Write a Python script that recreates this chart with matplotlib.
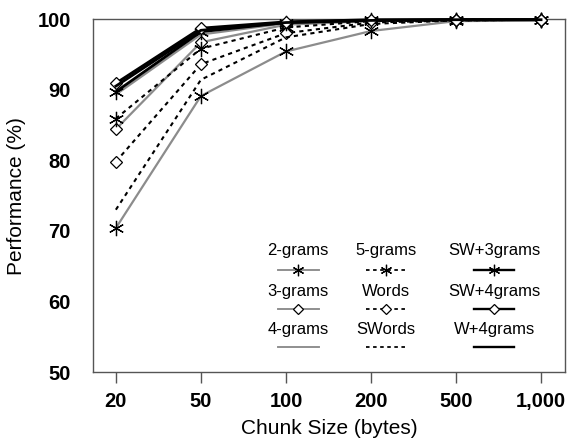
import numpy as np
import matplotlib
matplotlib.use('Agg')
from matplotlib import pyplot as plt

plt.rcParams['font.family'] = ['Liberation Sans', 'DejaVu Sans']

# Chart data
chunkSizes = ['20', '50', '100', '200', '500', '1,000']
gram2 = [70.4, 89.1, 95.4, 98.3, 99.7, 99.8]
gram3 = [84.4, 96.7, 99.2, 99.7, 99.9, 99.9]
gram4 = [89.3, 97.8, 99.4, 99.8, 99.9, 99.9]
gram5 = [85.9, 95.8, 98.8, 99.7, 99.9, 99.9]
words = [79.8, 93.6, 98.0, 99.5, 99.8, 99.9]
swords = [73.0, 91.4, 97.4, 99.3, 99.8, 99.9]
sw3grams = [89.7, 98.2, 99.5, 99.8, 99.9, 99.9]
sw4grams = [90.9, 98.7, 99.6, 99.9, 99.9, 99.9]
w4grams = [90.5, 98.4, 99.5, 99.8, 99.9, 99.9]
yTicks = [50, 60, 70, 80, 90, 100]

GRAY = '#8c8c8c'
STAR = (6, 2, 0)

# label, values, color, linestyle, linewidth, marker
series = [
    ('2-grams', gram2, GRAY, '-', 1.6, STAR),
    ('3-grams', gram3, GRAY, '-', 1.6, 'D'),
    ('4-grams', gram4, GRAY, '-', 1.6, None),
    ('5-grams', gram5, 'black', (0, (2, 2)), 1.5, STAR),
    ('Words', words, 'black', (0, (2, 2)), 1.5, 'D'),
    ('SWords', swords, 'black', (0, (2, 2)), 1.5, None),
    ('SW+3grams', sw3grams, 'black', '-', 2.0, STAR),
    ('SW+4grams', sw4grams, 'black', '-', 2.0, 'D'),
    ('W+4grams', w4grams, 'black', '-', 2.0, None),
]


def markerKw(marker, scale=1.0):
    if marker == 'D':
        return dict(marker='D', markersize=6.5 * scale, markerfacecolor='white',
                    markeredgecolor='black', markeredgewidth=0.9)
    if marker is None:
        return dict(marker=None)
    return dict(marker=marker, markersize=11 * scale, markeredgecolor='black',
                markeredgewidth=0.9)


def main():
    fig = plt.figure(figsize=(5.70, 4.42), dpi=100)
    ax = fig.add_axes([0.163, 0.158, 0.828, 0.799])
    xPos = np.arange(len(chunkSizes))

    for i, (label, vals, color, ls, lw, marker) in enumerate(series):
        ax.plot(xPos, vals, color=color, linestyle=ls, linewidth=lw,
                zorder=2 + i, clip_on=False, **markerKw(marker))

    ax.set_xlim(-0.27, 5.28)
    ax.set_ylim(50, 100)
    ax.set_xticks(xPos)
    ax.set_xticklabels(chunkSizes, fontsize=14.5, fontweight='bold')
    ax.set_yticks(yTicks)
    ax.set_yticklabels([str(v) for v in yTicks], fontsize=14.5, fontweight='bold')
    ax.tick_params(axis='y', length=0, pad=16)
    ax.tick_params(axis='x', length=8, width=1, color='#555555', pad=6)
    for sp in ax.spines.values():
        sp.set_color('#555555')
        sp.set_linewidth(1.0)
    ax.set_xlabel('Chunk Size (bytes)', fontsize=15, labelpad=6)
    ax.set_ylabel('Performance (%)', fontsize=15, labelpad=8)

    # Hand built legend: label above each line sample, 3 columns
    colX = [0.435, 0.621, 0.850]
    rowText = [0.344, 0.228, 0.122]
    rowLine = [0.289, 0.178, 0.071]
    half = 0.043
    for i, (label, vals, color, ls, lw, marker) in enumerate(series):
        c, r = divmod(i, 3)
        cx = colX[c]
        ax.text(cx, rowText[r], label, transform=ax.transAxes, fontsize=12,
                ha='center', va='center')
        ax.plot([cx - half, cx + half], [rowLine[r], rowLine[r]],
                transform=ax.transAxes, color=color, linestyle=ls,
                linewidth=lw * 0.85, zorder=20)
        if marker is not None:
            ax.plot([cx], [rowLine[r]], transform=ax.transAxes, linestyle='none',
                    zorder=21, **markerKw(marker, 0.75))

    fig.savefig('out.png', dpi=100)


if __name__ == '__main__':
    main()
